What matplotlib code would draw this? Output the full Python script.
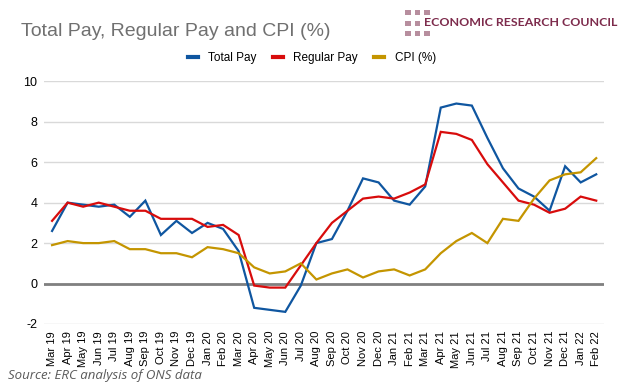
import matplotlib
matplotlib.use("Agg")
import matplotlib.pyplot as plt
from matplotlib.patches import Rectangle
from matplotlib.lines import Line2D

plt.rcParams['axes.unicode_minus'] = False

# data (% annual growth)
months = ['Mar 19', 'Apr 19', 'May 19', 'Jun 19', 'Jul 19', 'Aug 19', 'Sep 19', 'Oct 19',
          'Nov 19', 'Dec 19', 'Jan 20', 'Feb 20', 'Mar 20', 'Apr 20', 'May 20', 'Jun 20',
          'Jul 20', 'Aug 20', 'Sep 20', 'Oct 20', 'Nov 20', 'Dec 20', 'Jan 21', 'Feb 21',
          'Mar 21', 'Apr 21', 'May 21', 'Jun 21', 'Jul 21', 'Aug 21', 'Sep 21', 'Oct 21',
          'Nov 21', 'Dec 21', 'Jan 22', 'Feb 22']
total_pay = [2.6, 4.0, 3.9, 3.8, 3.9, 3.3, 4.1, 2.4, 3.1, 2.5, 3.0, 2.7, 1.6, -1.2, -1.3, -1.4,
             -0.1, 2.0, 2.2, 3.6, 5.2, 5.0, 4.1, 3.9, 4.8, 8.7, 8.9, 8.8, 7.2, 5.7, 4.7, 4.3,
             3.6, 5.8, 5.0, 5.4]
regular_pay = [3.1, 4.0, 3.8, 4.0, 3.8, 3.6, 3.6, 3.2, 3.2, 3.2, 2.8, 2.9, 2.4, -0.1, -0.2, -0.2,
               0.9, 2.0, 3.0, 3.6, 4.2, 4.3, 4.2, 4.5, 4.9, 7.5, 7.4, 7.1, 5.9, 5.0, 4.1, 3.9,
               3.5, 3.7, 4.3, 4.1]
cpi = [1.9, 2.1, 2.0, 2.0, 2.1, 1.7, 1.7, 1.5, 1.5, 1.3, 1.8, 1.7, 1.5, 0.8, 0.5, 0.6,
       1.0, 0.2, 0.5, 0.7, 0.3, 0.6, 0.7, 0.4, 0.7, 1.5, 2.1, 2.5, 2.0, 3.2, 3.1, 4.2,
       5.1, 5.4, 5.5, 6.2]

series_names = ['Total Pay', 'Regular Pay', 'CPI (%)']
colours = ['#0f56a0', '#d80c0c', '#c49500']

W, H = 624, 387
fig = plt.figure(figsize=(W / 100, H / 100), dpi=100)
ax = fig.add_axes([44.3 / W, 1 - 324 / H, (604 - 44.3) / W, (324 - 81.3) / H])

x = range(len(months))
for vals, name, c in zip([total_pay, regular_pay, cpi], series_names, colours):
    ax.plot(x, vals, color=c, lw=1.6, label=name, solid_joinstyle='miter')

ax.set_xlim(-0.5, len(months) - 0.5)
ax.set_ylim(-2, 10)
ax.set_yticks(range(-2, 11, 2))
ax.set_xticks(list(x))
ax.set_xticklabels(months, rotation=90, fontsize=8, family='Liberation Sans')
for lbl in ax.get_yticklabels():
    lbl.set_family('Liberation Sans')
    lbl.set_fontsize(9)
ax.tick_params(length=0, pad=5)
ax.grid(axis='y', color='#d9d9d9', lw=1)
ax.axhline(0, color='#808080', lw=2, zorder=1.5)
for s in ax.spines.values():
    s.set_visible(False)
ax.set_axisbelow(True)

# title
fig.text(21 / W, 1 - 36 / H, 'Total Pay, Regular Pay and CPI (%)', fontsize=14,
         family='Liberation Sans', color='#707070', va='baseline')

# logo: little square grid + name
sq_col = '#b78e9e'
for r, yy in enumerate([10, 21, 31]):
    for cidx, xx in enumerate([405, 414.5, 424]):
        if r == 1 and cidx == 2:
            continue
        fig.add_artist(Rectangle((xx / W, 1 - (yy + 5) / H), 5.5 / W, 5 / H,
                                 transform=fig.transFigure, color=sq_col, lw=0))
fig.text(424 / W, 1 - 23 / H, 'ECONOMIC RESEARCH COUNCIL', fontsize=8.9,
         family='Lato', color='#7d2b4c', va='center', fontweight='bold')

# legend
handles = [Line2D([], [], color=c, lw=3) for c in colours]
fig.legend(handles, series_names, loc='center', bbox_to_anchor=(0.5, 1 - 57.7 / H),
           ncol=3, frameon=False, handlelength=0.8, handletextpad=0.9, columnspacing=1.4,
           prop={'family': 'Liberation Sans', 'size': 8.5})

fig.text(8 / W, 1 - 375 / H, 'Source: ERC analysis of ONS data', fontsize=9.5,
         family='Open Sans', style='italic', color='#595959', va='center')

fig.savefig('out.png', dpi=100)
